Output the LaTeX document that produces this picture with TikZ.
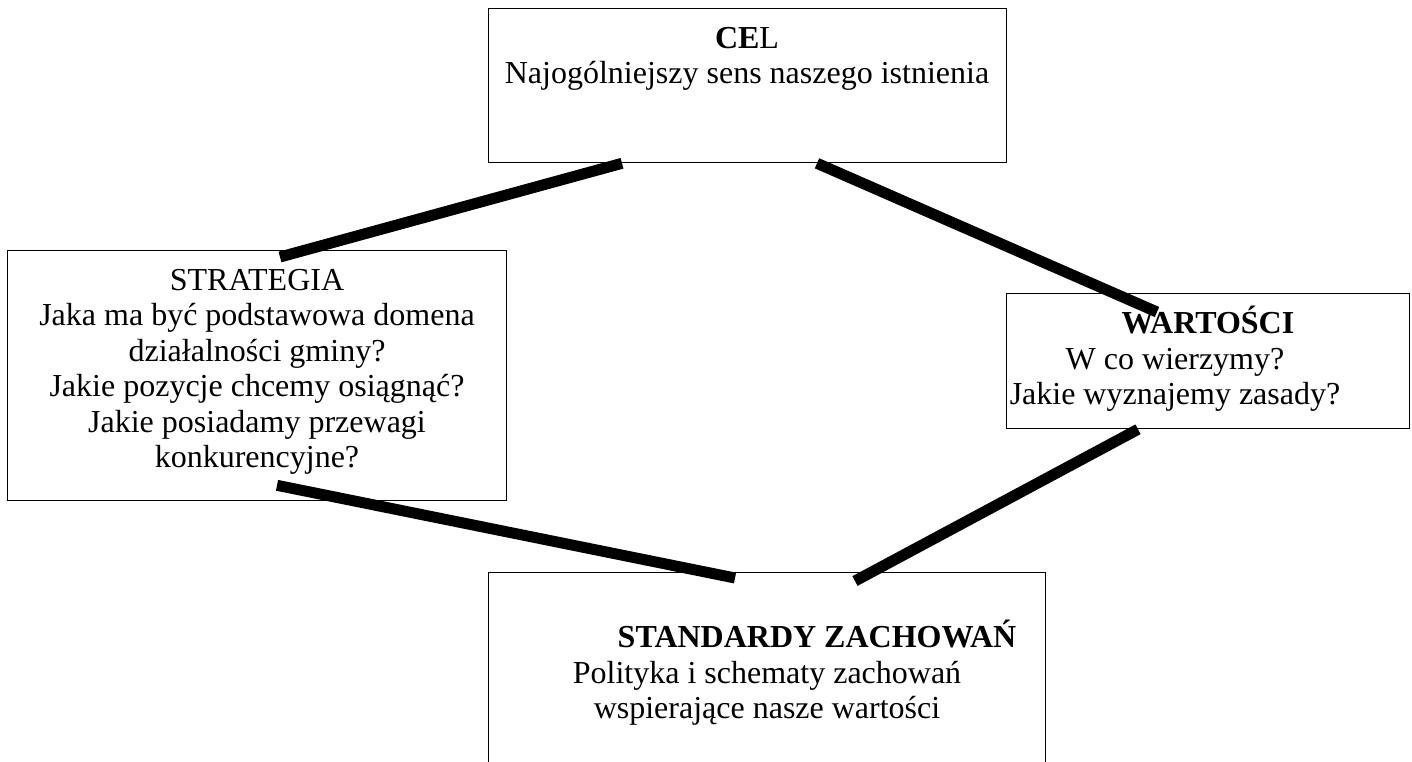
\documentclass[tikz,border=0pt]{standalone}
\usepackage{fontspec}
\setmainfont{Liberation Serif}

\begin{document}
\begin{tikzpicture}[x=1pt, y=-1pt,
    box/.style={rectangle, draw=black, line width=1.3pt, inner sep=0pt, anchor=north west},
    txt/.style={align=center, inner sep=0pt, anchor=north, font=\fontsize{32}{35.5}\selectfont},
    link/.style={line width=11pt, line cap=butt}
  ]
    \useasboundingbox (0,0) rectangle (1412,761);
    \clip (0,0) rectangle (1412,761);

    % Boxes
    \node (cel) [box, minimum width=518pt, minimum height=154pt] at (488,8) {};
    \node (strat) [box, minimum width=499pt, minimum height=250pt] at (7,250) {};
    \node (wart) [box, minimum width=403pt, minimum height=135pt] at (1006,293) {};
    \node (std) [box, minimum width=557pt, minimum height=220pt] at (488,572) {};

    % Texts
    \node (cel_txt) [txt] at (747,23) {\strut\textbf{CE}L\\Najogólniejszy sens naszego istnienia};
    \node (strat_txt) [txt] at (257,265) {\strut STRATEGIA\\Jaka ma być podstawowa domena\\działalności gminy?\\Jakie pozycje chcemy osiągnąć?\\Jakie posiadamy przewagi\\konkurencyjne?};
    \node (wart_txt) [txt] at (1175,306) {\strut\hspace*{66pt}\textbf{WARTOŚCI}\\W co wierzymy?\\Jakie wyznajemy zasady?};
    \node (std_txt) [txt] at (767,620) {\strut\hspace*{100pt}\textbf{STANDARDY ZACHOWAŃ}\\Polityka i schematy zachowań\\wspierające nasze wartości};

    % Links
    \draw[link] ([xshift=134pt]cel.south west) -- ([xshift=273pt,yshift=-7pt]strat.north west);
    \draw[link] ([xshift=329pt]cel.south west) -- ([xshift=151pt,yshift=-19pt]wart.north west);
    \draw[link] ([xshift=270pt,yshift=16pt]strat.south west) -- ([xshift=247pt,yshift=-6pt]std.north west);
    \draw[link] ([xshift=132pt]wart.south west) -- ([xshift=367pt,yshift=-9pt]std.north west);
  \end{tikzpicture}
\end{document}
